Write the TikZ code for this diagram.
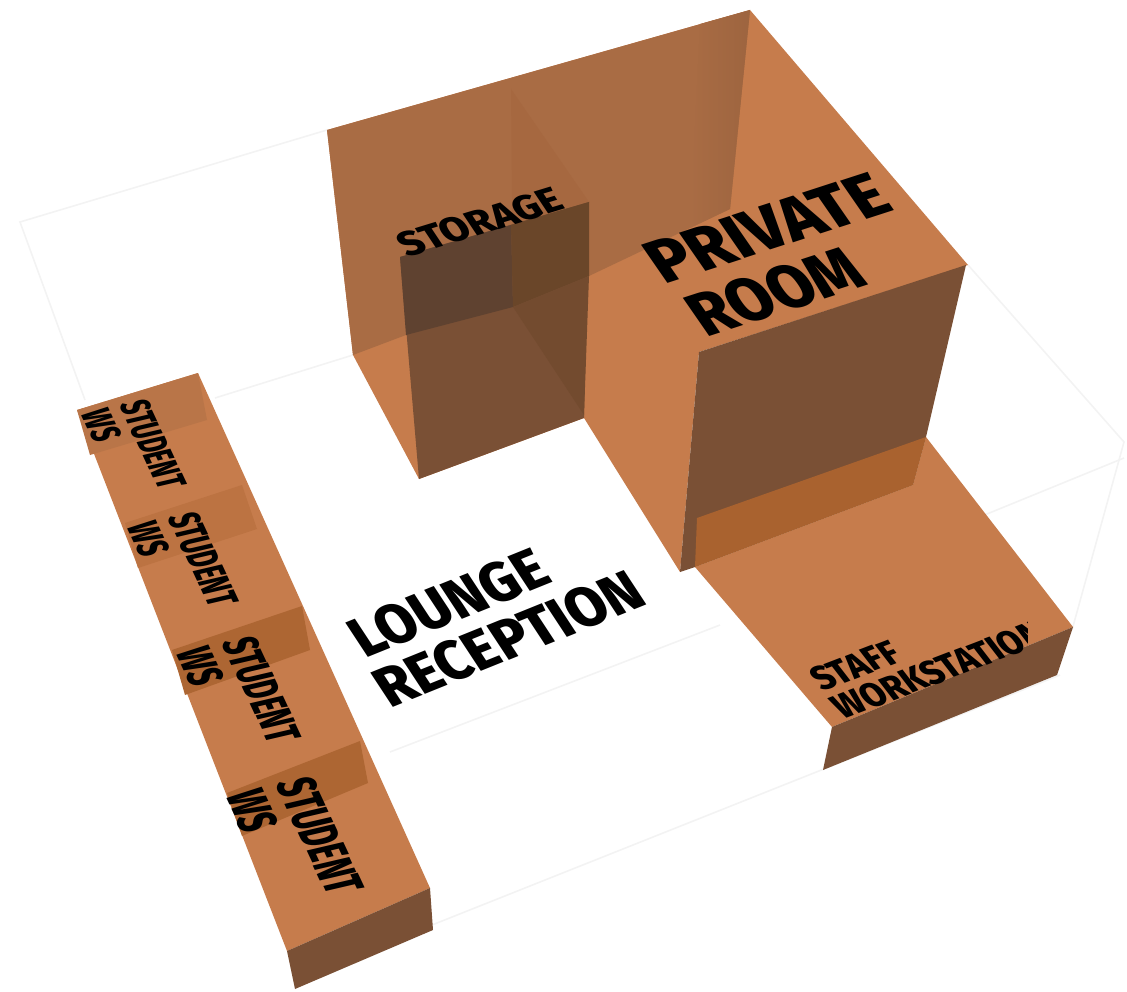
\documentclass[tikz,border=0pt]{standalone}
\usepackage{fontspec}
\newfontfamily\roomfont{Fira Sans ExtraBold}
\usetikzlibrary{positioning}
\definecolor{roomlight}{HTML}{C67C4C}
\definecolor{roomwall}{HTML}{A96C44}
\definecolor{roomwedge}{HTML}{A66840}
\definecolor{roomfront}{HTML}{7A5035}
\definecolor{roomdeep}{HTML}{5F4230}
\definecolor{roomdeepr}{HTML}{6A4629}
\definecolor{roomlow}{HTML}{734B2F}
\definecolor{roomband}{HTML}{A9622F}
\definecolor{groundline}{HTML}{F3F3F3}

\begin{document}
\begin{tikzpicture}[x=1pt,y=-1pt]
  \tikzstyle{ground}=[draw=groundline,line width=1.6pt]
  \tikzstyle{toplabel}=[transform shape,align=center,inner sep=0pt,text=black]
  \useasboundingbox (0,0) rectangle (1127,992);
  % Faint ground outline
  \draw[ground] (327,130) -- (20,222) -- (85,400);
  \draw[ground] (215,398) -- (353,355);
  \draw[ground] (968,265) -- (1124,442) -- (1072,630);
  \draw[ground] (1124,458) -- (960,525);
  \draw[ground] (720,625) -- (390,752);
  \draw[ground] (1060,675) -- (432,925);
  % Floor and top of the private room
  \fill[roomlight] (327,130) -- (750,10) -- (968,265) -- (699,352) -- (680,572)
    -- (584,418) -- (419,479) -- (353,355) -- cycle;
  % Back wall
  \fill[roomwall] (327,130) -- (750,10) -- (730,209) -- (589,276) -- (406,335) -- (353,355) -- cycle;
  \shade[left color=roomwall,right color=roomwall!93!black] (700,24) -- (750,10) -- (730,209) -- (690,228) -- cycle;
  \fill[roomwedge] (511,89) -- (589,202) -- (589,276) -- (513,307) -- cycle;
  % Storage box
  \fill[roomfront] (400,257) -- (589,202) -- (584,418) -- (419,479) -- cycle;
  \fill[roomdeep] (400,257) -- (511,225) -- (513,307) -- (406,335) -- cycle;
  \fill[roomdeepr] (511,225) -- (589,202) -- (589,276) -- (513,307) -- cycle;
  \fill[roomlow] (513,307) -- (589,276) -- (584,415) -- cycle;
  % Private room front
  \fill[roomfront] (699,352) -- (966,265) -- (926,437) -- (913,485) -- (695,567) -- (680,572) -- cycle;
  % Staff workstation
  \fill[roomlight] (926,437) -- (1073,627) -- (832,727) -- (695,567) -- (913,485) -- cycle;
  \fill[roomfront] (832,727) -- (1073,627) -- (1057,675) -- (823,770) -- cycle;
  \fill[roomband] (697,518) -- (926,437) -- (913,485) -- (695,567) -- cycle;
  % Student workstations
  \fill[roomlight] (77,410) -- (198,373) -- (430,888) -- (287,951) -- cycle;
  \fill[roomfront] (287,951) -- (430,888) -- (433,930) -- (295,989) -- cycle;
  \fill[roomwall!45!roomlight] (77,410) -- (198,373) -- (207,420) -- (90,455) -- cycle;
  \fill[roomband!35!roomlight] (125,523) -- (242,485) -- (257,529) -- (138,568) -- cycle;
  \fill[roomband!85!roomlight] (172,650) -- (302,606) -- (310,650) -- (185,695) -- cycle;
  \fill[roomband!85!roomlight] (227,793) -- (360,741) -- (368,783) -- (242,836) -- cycle;
  % Labels on the top faces
  \node[toplabel,rotate=18,xslant=-0.3,xscale=1.03,font=\roomfont\fontsize{64}{64}\selectfont] (private) at (767,228) {PRIVATE};
  \node[toplabel,rotate=18,xslant=-0.3,xscale=0.97,font=\roomfont\fontsize{64}{64}\selectfont] (room) at (775,292) {ROOM};
  \node[toplabel,rotate=17,xslant=-0.3,xscale=1.12,font=\roomfont\fontsize{36}{36}\selectfont] (storage) at (480,222) {STORAGE};
  \node[toplabel,rotate=22,xslant=-0.2,xscale=0.965,align=left,font=\roomfont\fontsize{58}{56}\selectfont] (lounge) at (493,615) {\hspace*{7pt}LOUNGE\\RECEPTION};
  \begin{scope}
    \clip (700,560) rectangle (1027,720);
    \node[toplabel,rotate=21,xslant=-0.3,xscale=0.93,align=left,font=\roomfont\fontsize{36}{34}\selectfont] (staff) at (928,656) {STAFF\\WORKSTATION};
  \end{scope}
  \foreach \wsname/\wsx/\wsy/\wssize in {wsa/134/449/0.82,wsb/183/564/0.87,wsc/239/695/0.98,wsd/295/842/1.08}{
    \node[toplabel,rotate=-65,xslant=0.21,scale=\wssize,xscale=0.57,align=left,font=\roomfont\fontsize{49}{47}\selectfont] (\wsname) at (\wsx,\wsy) {STUDENT\\WS};
  }
\end{tikzpicture}
\end{document}
